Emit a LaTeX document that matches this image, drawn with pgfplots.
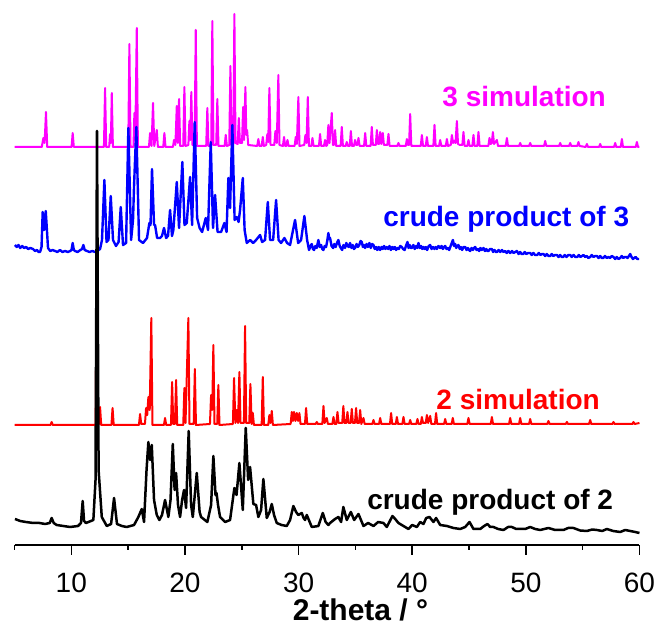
\documentclass[border=0pt]{standalone}
\usepackage{pgfplots}
\pgfplotsset{compat=1.18}
\usepackage{fontspec}
\setmainfont{Liberation Sans}
\definecolor{cmag}{RGB}{255,0,255}
\definecolor{cblue}{RGB}{0,0,255}
\definecolor{cred}{RGB}{255,0,0}
\begin{document}
\begin{tikzpicture}
\useasboundingbox (-14.5pt,-81pt) rectangle (642.5pt,545pt);
\begin{axis}[
  at={(0,0)}, anchor=south west,
  scale only axis, width=625pt, height=545pt,
  xmin=5, xmax=60, ymin=0, ymax=545,
  axis x line*=bottom, axis y line=none,
  axis line style={line width=1.6pt},
  xtick={10,20,30,40,50,60},
  minor xtick={5,15,25,35,45,55},
  tick align=outside, xtick pos=bottom,
  major tick length=10pt, minor tick length=5pt,
  every tick/.style={line width=1.6pt, black},
  /pgf/number format/assume math mode=true,
  xticklabel style={font=\fontsize{28}{32}\selectfont, anchor=base, yshift=-38pt},
  xlabel={2-theta / °},
  x label style={font=\fontsize{30}{34}\selectfont\bfseries, at={(rel axis cs:0.5536,0)}, anchor=base, yshift=-76pt},
  clip=false,
  every axis plot/.append style={line join=round},
]
% 3 simulation
\addplot[cmag, line width=2pt] table {
5.00 398
7.40 398
7.54 407
7.65 402
7.77 433
7.88 398
10.02 398
10.12 412
10.22 398
12.87 398
12.97 457
13.07 398
13.33 398
13.41 411
13.48 402
13.56 452
13.66 398
15.01 398
15.11 501
15.21 398
15.47 398
15.55 432
15.63 405
15.76 517
15.86 398
16.83 398
16.93 412
17.06 399
17.19 442
17.30 399
17.52 415
17.62 398
18.09 398
18.19 412
18.29 398
18.94 398
19.04 405
19.16 400
19.28 439
19.38 402
19.48 446
19.58 399
19.85 399
19.95 458
20.05 399
20.30 400
20.39 424
20.47 405
20.56 453
20.66 400
20.85 400
20.95 515
21.05 399
21.87 399
21.97 437
22.07 399
22.31 399
22.41 524
22.51 400
22.75 400
22.85 446
22.95 399
23.49 399
23.59 410
23.69 399
23.90 400
24.00 479
24.10 400
24.25 401
24.35 531
24.45 402
24.64 401
24.74 427
24.84 402
25.02 402
25.12 438
25.20 405
25.32 458
25.40 410
25.47 415
25.57 400
26.36 399
26.46 406
26.56 399
26.75 399
26.85 408
26.95 399
27.15 400
27.25 411
27.33 403
27.43 457
27.53 400
27.86 400
27.96 414
28.08 402
28.22 470
28.32 400
28.62 399
28.72 408
28.82 399
28.92 399
29.02 405
29.12 399
29.65 399
29.75 408
29.85 401
29.98 448
30.08 399
30.50 400
30.60 410
30.70 402
30.81 448
30.91 399
31.12 399
31.22 407
31.32 399
31.79 399
31.89 411
31.99 399
32.23 399
32.33 405
32.43 399
32.52 400
32.62 420
32.72 402
32.92 432
33.02 400
33.11 400
33.21 415
33.31 399
33.70 399
33.80 418
33.90 399
34.14 399
34.24 403
34.34 399
34.50 399
34.60 414
34.70 399
34.87 399
34.97 405
35.07 400
35.17 400
35.27 407
35.37 399
35.76 399
35.86 412
35.96 399
36.34 399
36.44 418
36.54 400
36.79 400
36.89 415
36.99 401
37.08 401
37.18 413
37.28 401
37.41 412
37.51 400
37.81 400
37.91 411
38.01 399
38.69 399
38.79 402
38.89 399
39.43 399
39.53 406
39.63 400
39.72 400
39.82 431
39.92 399
40.75 399
40.85 410
40.95 399
41.19 399
41.29 408
41.39 399
41.86 399
41.96 420
42.06 399
42.36 399
42.46 405
42.56 399
42.95 399
43.05 406
43.15 399
43.39 400
43.49 410
43.60 402
43.70 404
43.81 402
43.93 424
44.03 401
44.20 400
44.41 400
44.51 413
44.61 399
44.85 399
44.95 405
45.05 399
45.29 399
45.39 410
45.49 399
45.73 399
45.83 413
45.93 399
46.70 399
46.80 407
46.90 401
47.00 402
47.10 413
47.20 401
47.45 405
47.55 399
48.23 399
48.33 407
48.43 399
49.40 399
49.50 402
49.60 399
50.28 399
50.38 402
50.48 399
51.60 399
51.70 404
51.80 399
52.92 399
53.02 402
53.12 399
53.80 399
53.90 402
54.00 399
54.53 399
54.63 403
54.73 399
55.27 398
55.37 401
55.47 398
56.44 398
56.54 401
56.64 398
57.76 398
57.86 402
57.96 398
58.35 398
58.45 406
58.55 398
59.67 398
59.77 403
59.87 398
60.00 398
};
% crude product of 3
\addplot[cblue, line width=2.4pt] table {
5.04 300
5.20 298
5.35 300
5.50 297
5.68 299
5.85 297
6.02 298
6.20 296
6.40 297
6.63 296
6.80 294
6.98 295
7.12 293
7.25 293
7.38 298
7.48 333
7.61 315
7.75 334
7.95 297
8.15 294
8.35 295
8.57 294
8.78 293
9.00 295
9.22 293
9.45 294
9.70 293
9.90 294
10.02 295
10.12 302
10.22 295
10.33 294
10.55 293
10.80 295
10.95 296
11.06 300
11.18 295
11.38 294
11.60 293
11.85 294
12.09 293
12.30 294
12.53 296
12.70 305
12.91 365
13.10 303
13.27 305
13.47 349
13.67 305
13.93 299
14.16 303
14.35 338
14.55 300
14.82 302
15.02 417
15.26 305
15.43 325
15.52 359
15.72 418
15.96 305
16.31 302
16.66 307
16.87 322
16.97 320
17.10 376
17.28 320
17.37 320
17.55 307
17.81 307
17.98 309
18.16 317
18.34 307
18.51 309
18.69 335
18.86 309
18.98 315
19.28 363
19.48 317
19.77 383
19.96 320
20.16 322
20.45 368
20.63 320
20.86 423
21.07 327
21.29 317
21.51 313
21.83 327
22.03 315
22.27 403
22.47 317
22.65 350
22.87 313
23.18 313
23.47 322
23.66 313
23.82 367
23.97 337
24.17 420
24.37 325
24.56 328
24.72 323
24.85 335
25.09 367
25.25 315
25.44 302
25.73 305
26.00 302
26.26 305
26.61 310
26.79 303
27.05 305
27.29 343
27.49 305
27.76 305
28.02 345
28.24 305
28.46 302
28.75 307
28.99 302
29.25 300
29.69 325
29.96 302
30.22 305
30.51 329
30.75 305
30.92 295
31.05 299
31.16 301
31.26 296
31.36 295
31.48 299
31.60 297
31.74 305
31.86 298
31.98 300
32.08 296
32.18 295
32.30 299
32.42 298
32.52 304
32.62 312
32.70 306
32.77 307
32.90 299
33.04 297
33.14 301
33.26 298
33.38 302
33.50 305
33.62 299
33.72 297
33.83 295
33.95 300
34.09 297
34.20 302
34.31 299
34.42 298
34.53 302
34.65 297
34.76 300
34.87 296
34.97 297
35.10 301
35.22 298
35.34 300
35.45 304
35.56 303
35.66 298
35.76 300
35.85 297
35.98 301
36.10 298
36.23 302
36.35 297
36.47 301
36.59 300
36.70 296
36.82 298
36.92 295
37.05 298
37.17 295
37.30 298
37.40 296
37.52 299
37.64 296
37.76 298
37.88 296
38.00 299
38.12 295
38.24 298
38.35 296
38.47 298
38.58 295
38.70 297
38.82 296
38.95 299
39.08 298
39.20 296
39.33 295
39.45 299
39.58 303
39.68 297
39.78 300
39.88 297
39.97 297
40.10 300
40.22 296
40.34 299
40.45 297
40.55 302
40.66 297
40.78 299
40.88 296
40.99 298
41.10 296
41.20 298
41.31 295
41.45 299
41.58 300
41.70 296
41.82 298
41.95 296
42.06 298
42.17 296
42.30 299
42.46 297
42.58 299
42.70 296
42.80 298
42.90 299
43.02 296
43.14 297
43.25 295
43.38 299
43.48 302
43.58 305
43.68 299
43.78 301
43.87 297
43.97 299
44.07 300
44.18 296
44.28 298
44.39 295
44.52 298
44.66 298
44.78 295
44.90 297
45.00 295
45.10 294
45.22 297
45.34 295
45.44 297
45.54 298
45.66 295
45.78 296
45.89 294
46.00 297
46.12 295
46.27 297
46.40 294
46.52 296
46.62 294
46.71 294
46.85 296
47.01 296
47.12 293
47.24 295
47.36 293
47.47 293
47.60 295
47.75 293
47.90 295
48.03 293
48.18 294
48.32 292
48.46 294
48.62 292
48.78 294
48.92 292
49.06 293
49.21 294
49.36 291
49.50 293
49.62 291
49.76 291
49.90 293
50.04 291
50.20 292
50.38 292
50.52 290
50.66 292
50.82 290
50.99 290
51.14 292
51.28 290
51.42 291
51.55 291
51.70 289
51.84 291
52.00 289
52.14 289
52.28 291
52.42 289
52.58 290
52.73 290
52.88 288
53.02 290
53.15 288
53.28 288
53.42 290
53.58 288
53.74 290
53.90 290
54.04 288
54.20 290
54.36 288
54.52 288
54.66 290
54.80 288
54.94 289
55.07 290
55.22 288
55.36 289
55.50 287
55.66 288
55.80 290
55.96 288
56.10 289
56.25 289
56.40 287
56.54 289
56.68 287
56.81 287
56.96 289
57.12 287
57.26 288
57.40 287
57.56 289
57.71 288
57.86 286
58.00 288
58.15 286
58.30 287
58.44 289
58.58 287
58.70 288
58.83 288
58.95 287
59.07 289
59.18 291
59.30 288
59.42 286
59.53 287
59.66 288
59.80 286
59.97 286
};
% 2 simulation
\addplot[cred, line width=2pt] table {
5.00 120
8.17 120
8.27 123
8.37 120
12.14 120
12.24 290
12.36 121
12.45 121
12.53 138
12.63 120
13.53 120
13.63 137
13.73 120
15.95 120
16.05 131
16.15 121
16.48 121
16.58 137
16.68 130
16.78 148
16.90 135
17.04 227
17.14 120
18.15 120
18.25 127
18.35 120
18.77 120
18.87 163
18.97 121
19.12 121
19.22 165
19.32 120
19.85 120
19.95 157
20.05 122
20.30 227
20.40 121
20.77 121
20.87 176
20.97 120
22.20 121
22.30 150
22.40 135
22.50 200
22.60 121
22.84 121
22.94 160
23.04 120
24.22 121
24.32 167
24.44 122
24.56 135
24.67 122
24.79 173
24.89 122
25.19 122
25.29 219
25.39 122
25.66 122
25.76 161
25.87 121
25.97 132
26.07 120
26.75 120
26.85 168
26.95 120
27.33 120
27.43 130
27.53 122
27.64 134
27.74 120
29.30 121
29.40 133
29.50 124
29.60 133
29.72 124
29.84 132
29.96 124
30.07 132
30.17 121
30.56 121
30.66 137
30.76 121
31.50 121
31.60 123
31.70 121
32.09 121
32.19 139
32.29 122
32.48 127
32.58 121
32.97 121
33.07 128
33.17 121
33.32 121
33.42 133
33.52 122
33.84 122
33.94 139
34.04 122
34.20 122
34.30 133
34.40 122
34.58 122
34.68 136
34.78 122
34.96 122
35.06 137
35.16 122
35.32 122
35.42 135
35.52 121
35.71 127
35.81 121
36.49 121
36.59 125
36.69 121
37.08 121
37.18 127
37.28 121
38.04 121
38.14 132
38.24 121
38.55 121
38.65 128
38.75 121
39.13 121
39.23 128
39.33 121
39.72 121
39.82 125
39.92 121
40.36 121
40.46 126
40.56 121
40.75 121
40.85 128
40.95 122
41.19 122
41.29 130
41.40 122
41.58 129
41.68 121
42.00 121
42.10 132
42.20 121
42.80 121
42.90 126
43.00 121
43.47 121
43.57 127
43.67 121
44.85 121
44.95 127
45.05 121
46.91 121
47.01 128
47.11 121
48.52 121
48.62 127
48.72 121
49.40 121
49.50 127
49.60 121
50.28 121
50.38 126
50.48 121
51.89 121
51.99 124
52.09 121
53.51 121
53.61 123
53.71 121
55.56 121
55.66 125
55.76 121
57.61 121
57.71 123
57.81 121
59.37 121
59.47 123
59.57 121
60.00 122
};
% crude product of 2
\addplot[black, line width=2.5pt] table {
5.04 26
5.50 24
6.00 23
6.65 22
7.20 22
7.69 21
8.10 22
8.27 27
8.45 22
8.71 20
9.30 19
9.89 18
10.59 19
10.85 22
11.00 44
11.12 24
11.29 22
11.94 25
12.13 65
12.26 414
12.40 75
12.68 28
13.12 19
13.50 21
13.76 47
14.02 21
14.45 19
14.88 18
15.52 20
15.90 28
16.20 36
16.40 23
16.62 75
16.78 103
16.93 85
17.08 100
17.28 45
17.52 30
17.75 25
17.98 30
18.25 45
18.54 28
18.73 45
18.93 101
19.09 55
19.22 72
19.39 40
19.57 28
19.75 45
19.92 55
20.10 37
20.33 114
20.54 40
20.69 28
21.04 72
21.29 33
21.42 28
21.97 23
22.30 40
22.50 89
22.69 50
22.78 52
22.91 40
23.09 28
23.53 23
23.97 25
24.35 57
24.54 50
24.79 82
25.09 35
25.35 117
25.56 65
25.73 78
26.02 41
26.26 40
26.46 28
26.70 35
26.90 66
27.20 27
27.45 33
27.64 41
27.84 30
28.08 22
28.50 20
28.96 19
29.25 25
29.54 39
29.78 33
29.98 30
30.28 32
30.44 27
30.57 25
30.72 30
31.16 18
31.74 19
32.13 32
32.38 23
32.62 20
32.77 22
33.21 26
33.50 28
33.74 23
33.94 38
34.24 25
34.60 33
34.89 25
35.27 31
35.71 19
36.12 22
36.59 19
37.00 23
37.47 22
37.76 18
38.26 29
38.50 26
38.79 22
39.23 19
39.67 16
39.99 20
40.41 18
40.70 23
40.99 21
41.23 27
41.52 28
41.87 23
42.10 27
42.46 20
43.05 19
43.63 17
44.22 16
44.66 18
45.04 23
45.39 16
45.98 16
46.33 19
46.62 21
46.86 18
47.15 18
47.56 16
48.03 15
48.44 18
48.77 18
49.15 16
49.50 16
49.94 16
50.38 18
50.82 16
51.26 15
51.99 17
52.58 15
53.31 15
53.72 17
54.19 17
54.78 14.5
55.37 14
55.84 15.5
56.25 15
56.72 14
57.13 16
57.69 14
58.30 13
58.74 15
59.18 14
59.62 13
60.00 12
};
\node[cmag, font=\fontsize{28}{32}\selectfont\bfseries, anchor=base] at (axis cs:49.85,438) {3 simulation};
\node[cblue, font=\fontsize{28}{32}\selectfont\bfseries, anchor=base] at (axis cs:48.27,318) {crude product of 3};
\node[cred, font=\fontsize{28}{32}\selectfont\bfseries, anchor=base] at (axis cs:49.32,135) {2 simulation};
\node[black, font=\fontsize{28}{32}\selectfont\bfseries, anchor=base] at (axis cs:46.86,35) {crude product of 2};
\end{axis}
\end{tikzpicture}
\end{document}
